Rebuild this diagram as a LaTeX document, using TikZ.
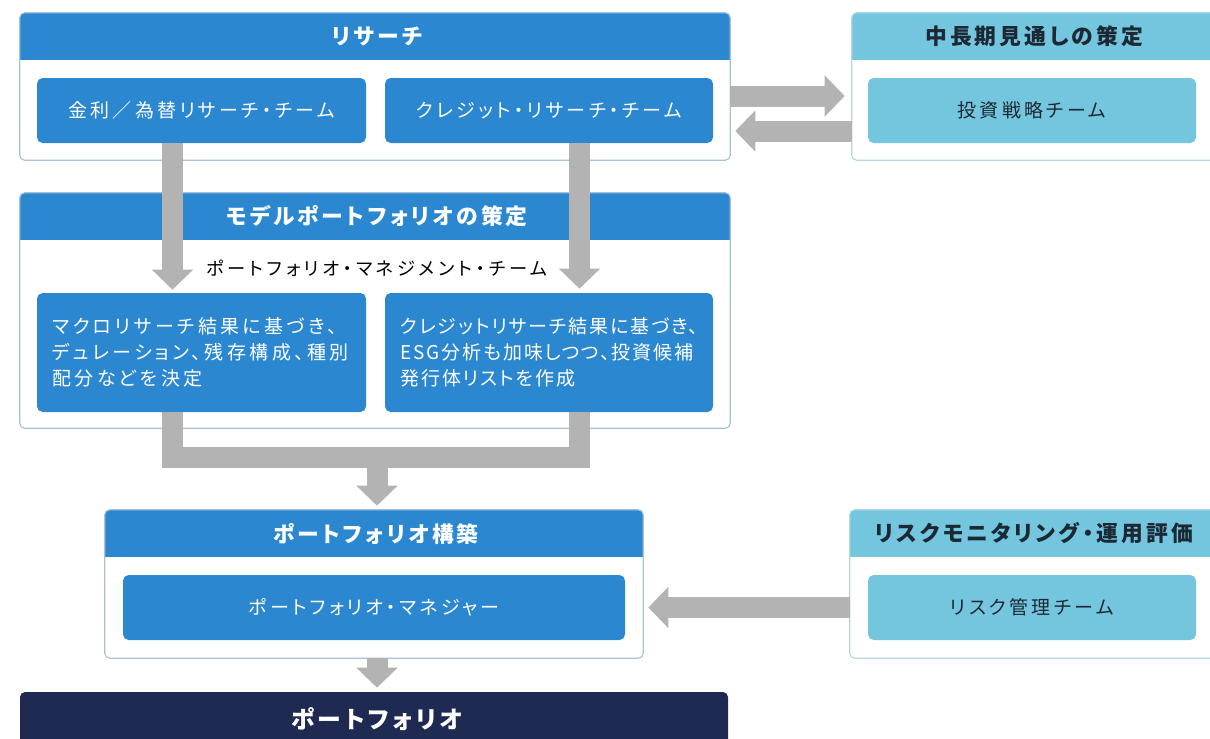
\documentclass[tikz,border=0pt]{standalone}
\usepackage{fontspec}
\setmainfont{Noto Sans CJK JP}
\newfontfamily\jp[RawFeature={+palt}, LetterSpace=17]{Noto Sans CJK JP}
\newfontfamily\jpm[RawFeature={+palt}, LetterSpace=10]{Noto Sans CJK JP}
\newfontfamily\jpml[RawFeature={+palt}, LetterSpace=18]{Noto Sans CJK JP}
\newfontfamily\jph[RawFeature={+palt}, LetterSpace=14]{Noto Sans CJK JP}
\newfontfamily\jps[RawFeature={+palt}, LetterSpace=20]{Noto Sans CJK JP}
\usetikzlibrary{arrows.meta,fit}
\definecolor{mblue}{HTML}{2B88D0}
\definecolor{lblue}{HTML}{74C6DF}
\definecolor{navy}{HTML}{1E2A52}
\definecolor{agray}{HTML}{B3B3B3}
\definecolor{bline}{HTML}{A6C2DA}
\definecolor{cline}{HTML}{B3D7E2}
\definecolor{dtext}{HTML}{1C2833}
\newcommand\rc{3.6pt}
\tikzset{
  panelbg/.style={fill=white, inner sep=0pt, rounded corners=\rc},
  inbox/.style={fill=mblue, rounded corners=4pt, inner sep=0pt},
  inboxl/.style={inbox, fill=lblue},
  intext/.style={font=\jp\fontsize{13.5}{18.5}\selectfont, text=white, inner sep=0pt},
  intextd/.style={intext, text=dtext},
  multext/.style={font=\jpm\fontsize{13.5}{18.5}\selectfont, text=white, inner sep=0pt,
    align=left, anchor=west},
  multextl/.style={multext, font=\jpml\fontsize{13.5}{18.5}\selectfont},
  hdrtext/.style={font=\jph\bfseries\fontsize{15.5}{18}\selectfont, text=white, inner sep=0pt},
  hdrtextd/.style={hdrtext, text=dtext},
  pftext/.style={font=\jph\bfseries\fontsize{17}{20}\selectfont, text=white, inner sep=0pt},
  subtext/.style={font=\jps\fontsize{13}{15}\selectfont, text=black, inner sep=0pt},
  garrow/.style={draw=agray, line width=0.525cm, -{Triangle[width=1cm,length=0.5cm]}},
  gbar/.style={draw=agray, line width=0.525cm, line join=miter},
}
% name, x1, y1, x2, y2, header bottom, header colour, border colour
\newcommand\mkpanel[8]{%
  \node[panelbg, fit={(#2,#3) (#4,#5)}] (#1) {};
  \begin{scope}
    \clip[rounded corners=\rc] (#1.south west) rectangle (#1.north east);
    \fill[#7] (#1.north west) rectangle (#4,#6);
  \end{scope}
  \draw[#8, line width=0.8pt, rounded corners=\rc] (#1.south west) rectangle (#1.north east);
}
\begin{document}
\begin{tikzpicture}[x=0.025cm, y=-0.025cm]
\useasboundingbox (0,0) rectangle (1210,738);
\clip (0,0) rectangle (1210,738);
\fill[white] (0,0) rectangle (1210,738);

% Research
\mkpanel{res}{20}{13}{730}{160}{60}{mblue}{bline}
\node[hdrtext] (resH) at (377,36.5) {リサーチ};
\node[inbox, fit={(37,78) (366,143)}] (rl) {};
\node[intext] (rlT) at (rl.center) {金利／為替リサーチ・チーム};
\node[inbox, fit={(385,78) (713,143)}] (rr) {};
\node[intext] (rrT) at (rr.center) {クレジット・リサーチ・チーム};

% Strategy
\mkpanel{str}{852}{13}{1216}{160}{60}{lblue}{cline}
\node[hdrtextd] (strH) at (1034,36.5) {中長期見通しの策定};
\node[inboxl, fit={(868,78) (1196,143)}] (sti) {};
\node[intextd] (stiT) at (sti.center) {投資戦略チーム};

% Model portfolio
\mkpanel{mod}{20}{193}{730}{428}{240}{mblue}{bline}
\node[hdrtext] (modH) at (377,216.5) {モデルポートフォリオの策定};
\node[subtext] (modS) at (377,268) {ポートフォリオ・マネジメント・チーム};
\node[inbox, fit={(37,293) (366,412)}] (ml) {};
\node[multextl] (mlT) at (52,352)
  {マクロリサーチ結果に基づき、\\デュレーション、残存構成、種別\\配分などを決定};
\node[inbox, fit={(385,293) (713,412)}] (mr) {};
\node[multext] (mrT) at (400,352)
  {クレジットリサーチ結果に基づき、\\ESG分析も加味しつつ、投資候補\\発行体リストを作成};

% Construction
\mkpanel{con}{105}{510}{643}{658}{557}{mblue}{bline}
\node[hdrtext] (conH) at (376,533.5) {ポートフォリオ構築};
\node[inbox, fit={(123,575) (625,640)}] (pm) {};
\node[intext] (pmT) at (pm.center) {ポートフォリオ・マネジャー};

% Risk
\mkpanel{rsk}{850}{510}{1216}{658}{557}{lblue}{cline}
\node[hdrtextd] (rskH) at (1034,533.5) {リスクモニタリング・運用評価};
\node[inboxl, fit={(868,575) (1196,640)}] (rki) {};
\node[intextd] (rkiT) at (rki.center) {リスク管理チーム};

% Portfolio
\node[fill=navy, rounded corners=\rc, inner sep=0pt, fit={(20,692) (728,750)}] (pf) {};
\node[pftext] (pfT) at (377,719) {ポートフォリオ};

% connectors
\coordinate (a1) at (172.5,0);
\coordinate (a2) at (579.5,0);
\coordinate (a3) at (377,0);
\coordinate (ya) at (0,96);
\coordinate (yb) at (0,131);
\coordinate (yc) at (0,607.5);
\coordinate (m1) at (377,457.5);

\draw[garrow, shorten >=0.075cm] (rl.south -| a1) -- (ml.north -| a1);
\draw[garrow, shorten >=0.1cm] (rr.south -| a2) -- (mr.north -| a2);
\draw[gbar] (ml.south -| a1) |- (m1) -| (mr.south -| a2);
\draw[garrow, shorten >=0.1cm] (m1) -- (con.north -| m1);
\draw[garrow, shorten >=0.1cm] (con.south -| a3) -- (pf.north -| a3);
\draw[garrow, shorten >=0.125cm] (rsk.west |- yc) -- (con.east |- yc);
\draw[garrow, shorten >=0.175cm] (res.east |- ya) -- (str.west |- ya);
\draw[garrow, shorten >=0.125cm] (str.west |- yb) -- (res.east |- yb);
\end{tikzpicture}
\end{document}
